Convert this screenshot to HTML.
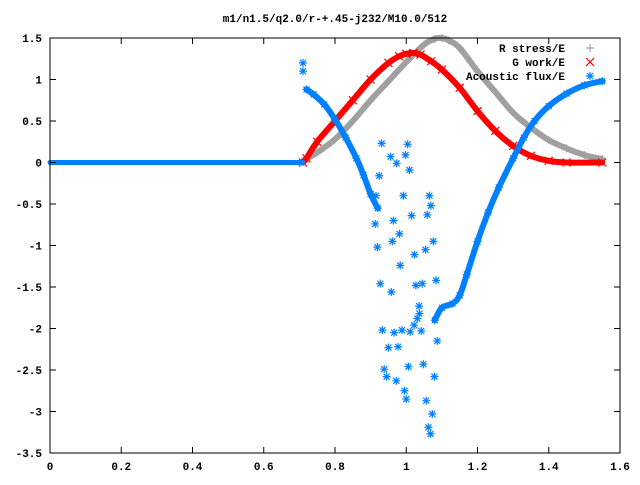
<!DOCTYPE html>
<html><head><meta charset="utf-8"><style>
body{margin:0;background:#fff}
svg text{font-family:"Liberation Mono",monospace;font-size:11px;font-weight:bold;fill:#000}
</style></head><body>
<svg id="chart" width="640" height="480" xmlns="http://www.w3.org/2000/svg">
<text x="335" y="22" text-anchor="middle">m1/n1.5/q2.0/r-+.45-j232/M10.0/512</text>
<g id="series"></g>
<rect x="50" y="38" width="570" height="415" fill="none" stroke="#000" stroke-width="1"/>
<g id="axes"></g>
<g id="legend">
<text x="565" y="52" text-anchor="end">R stress/E</text>
<text x="565" y="66" text-anchor="end">G work/E</text>
<text x="565" y="80" text-anchor="end">Acoustic flux/E</text>
</g>
</svg>
<script>
const xTicks=[0,0.2,0.4,0.6,0.8,1,1.2,1.4,1.6];
const xTickLabels=["0","0.2","0.4","0.6","0.8","1","1.2","1.4","1.6"];
const yTicks=[1.5,1,0.5,0,-0.5,-1,-1.5,-2,-2.5,-3,-3.5];
const yTickLabels=["1.5","1","0.5","0","-0.5","-1","-1.5","-2","-2.5","-3","-3.5"];
const stressX=[0.71,0.75,0.8,0.85,0.9,0.95,1.0,1.05,1.08,1.1,1.12,1.15,1.2,1.25,1.3,1.35,1.4,1.45,1.5,1.55];
const stressY=[0.02,0.12,0.28,0.5,0.75,0.98,1.21,1.42,1.49,1.5,1.47,1.38,1.1,0.85,0.6,0.42,0.27,0.17,0.09,0.04];
const workX=[0.71,0.72,0.75,0.8,0.85,0.9,0.95,0.98,1.0,1.02,1.04,1.07,1.1,1.15,1.2,1.25,1.3,1.35,1.4,1.45,1.55];
const workY=[0,0.05,0.25,0.5,0.75,1.0,1.2,1.28,1.31,1.32,1.3,1.22,1.12,0.9,0.62,0.38,0.2,0.08,0.02,0,0];
const fluxZeroX=[0,0.71];
const fluxZeroY=[0,0];
const fluxLeftX=[0.72,0.74,0.77,0.8,0.83,0.86,0.88,0.9,0.92];
const fluxLeftY=[0.88,0.82,0.7,0.52,0.3,0.05,-0.15,-0.38,-0.55];
const fluxRightX=[1.08,1.1,1.13,1.15,1.17,1.2,1.23,1.26,1.3,1.33,1.36,1.4,1.45,1.5,1.55];
const fluxRightY=[-1.9,-1.75,-1.7,-1.6,-1.35,-0.95,-0.6,-0.3,0.05,0.3,0.5,0.68,0.83,0.93,0.98];
const fluxScatterX=[0.71,0.71,0.931,1.004,0.956,0.998,0.973,1.009,0.924,0.915,0.992,1.065,1.069,1.015,1.059,0.964,0.913,0.981,0.961,1.076,0.919,1.023,1.054,0.983,0.927,0.958,1.027,1.045,1.084,1.036,1.037,1.031,1.022,1.011,1.042,0.933,0.966,0.988,1.087,0.950,0.977,0.938,1.006,1.048,1.079,0.945,0.972,0.995,1.000,1.056,1.073,1.062,1.068];
const fluxScatterY=[1.2,1.1,0.23,0.22,0.07,0.09,-0.01,-0.09,-0.16,-0.40,-0.40,-0.40,-0.52,-0.64,-0.63,-0.70,-0.74,-0.86,-0.95,-0.95,-1.02,-1.11,-1.05,-1.24,-1.46,-1.56,-1.48,-1.46,-1.42,-1.73,-1.82,-1.88,-1.96,-2.04,-2.03,-2.02,-2.05,-2.02,-2.15,-2.23,-2.22,-2.49,-2.46,-2.43,-2.58,-2.58,-2.63,-2.75,-2.85,-2.87,-3.03,-3.19,-3.27];

const NS="http://www.w3.org/2000/svg";
const X=v=>50+v*356.25;
const Y=v=>162.5-v*83;
const axes=document.getElementById('axes');
const series=document.getElementById('series');
function mk(tag,attrs,parent){const e=document.createElementNS(NS,tag);for(const k in attrs)e.setAttribute(k,attrs[k]);parent.appendChild(e);return e;}

xTicks.forEach((v,i)=>{
  const t=mk('path',{d:`M${X(v)},453v-6M${X(v)},38v6`,stroke:'#000'},axes);
  
  
  const l=mk('text',{x:X(v),y:470,'text-anchor':'middle'},axes);
  l.textContent=xTickLabels[i];
  
  
});
yTicks.forEach((v,i)=>{
  const t=mk('path',{d:`M50,${Y(v)}h6M620,${Y(v)}h-6`,stroke:'#000'},axes);
  
  
  const l=mk('text',{x:42,y:Y(v)+4,'text-anchor':'end'},axes);
  l.textContent=yTickLabels[i];
  
  
});

function marker(type,cx,cy,color,parent){
  let d;
  if(type==='+')d=`M${cx-4},${cy}h8M${cx},${cy-4}v8`;
  else if(type==='x')d=`M${cx-4},${cy-4}l8,8M${cx-4},${cy+4}l8,-8`;
  else d=`M${cx-4},${cy}h8M${cx},${cy-4}v8M${cx-3},${cy-3}l6,6M${cx-3},${cy+3}l6,-6`;
  return mk('path',{d:d,stroke:color,'stroke-width':1.2,fill:'none'},parent);
}
function smoothPath(P){
  let d=`M${P[0][0]},${P[0][1]}`;
  for(let i=0;i<P.length-1;i++){
    const p0=P[Math.max(i-1,0)],p1=P[i],p2=P[i+1],p3=P[Math.min(i+2,P.length-1)];
    const c1=[p1[0]+(p2[0]-p0[0])/6,p1[1]+(p2[1]-p0[1])/6];
    const c2=[p2[0]-(p3[0]-p1[0])/6,p2[1]-(p3[1]-p1[1])/6];
    d+=` C${c1[0]},${c1[1]} ${c2[0]},${c2[1]} ${p2[0]},${p2[1]}`;
  }
  return d;
}
function line(xs,ys,color,w,name){
  const P=xs.map((x,i)=>[X(x),Y(ys[i])]);
  const p=mk('path',{d:smoothPath(P),fill:'none',stroke:color,'stroke-width':w,'stroke-linejoin':'round','stroke-linecap':'round'},series);
  
  
}
function pts(xs,ys,type,color,name){
  const g=mk('g',{},series);
  
  
  xs.forEach((x,i)=>{
    const m=marker(type,X(x),Y(ys[i]),color,g);
    
    
  });
}
line(stressX,stressY,'#a0a0a0',6,'r-stress-line');
pts(stressX,stressY,'+','#a0a0a0','r-stress-series');
line(workX,workY,'#ff0000',6,'g-work-line');
pts(workX,workY,'x','#ff0000','g-work-series');
line(fluxZeroX,fluxZeroY,'#0080ff',5,'acoustic-flux-zero-line');
line(fluxLeftX,fluxLeftY,'#0080ff',6,'acoustic-flux-left-line');
pts(fluxLeftX,fluxLeftY,'*','#0080ff','acoustic-flux-left-series');
line(fluxRightX,fluxRightY,'#0080ff',6,'acoustic-flux-right-line');
pts(fluxRightX,fluxRightY,'*','#0080ff','acoustic-flux-right-series');
pts(fluxScatterX,fluxScatterY,'*','#0080ff','acoustic-flux-scatter');

const lg=document.getElementById('legend');
[['+','#a0a0a0',48,'legend-marker-r-stress'],['x','#ff0000',62,'legend-marker-g-work'],['*','#0080ff',76,'legend-marker-acoustic-flux']].forEach(a=>{
  const m=marker(a[0],590,a[2],a[1],lg);
  
  
});
</script>
</body></html>
